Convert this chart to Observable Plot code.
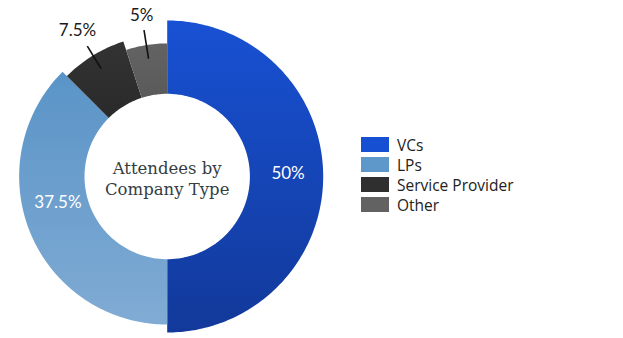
<!DOCTYPE html>
<html>
<head>
<meta charset="utf-8">
<script src="https://cdn.jsdelivr.net/npm/d3@7"></script>
<script src="https://cdn.jsdelivr.net/npm/@observablehq/plot@0.6"></script>
<style>
  html, body { margin: 0; padding: 0; background: #fff; }
  #wrap { position: relative; width: 623px; height: 338px; }
  #legend { position: absolute; left: 361px; top: 134.5px; font-family: "Open Sans", sans-serif; font-size: 15.5px; color: #222; }
  .row { display: flex; align-items: center; height: 20px; }
  .sw { width: 28px; height: 15px; margin-right: 8px; }
</style>
</head>
<body>
<div id="wrap"><div id="chart"></div><div id="legend"></div></div>
<script>
// ---- data ----
const categories = ["VCs", "LPs", "Service Provider", "Other"];
const values = [50, 37.5, 7.5, 5];
const valueLabels = ["50%", "37.5%", "7.5%", "5%"];
const centerTitle = ["Attendees by", "Company Type"];

// ---- styles ----
const colors = ["#174fd3", "#5e97ca", "#2f2f2f", "#626262"];
const gradients = [
  ["#1851d3", "#12399a"],
  ["#5a94c7", "#80abd4"],
  ["#333333", "#2a2a2a"],
  ["#636363", "#5a5a5a"]
];
const outerR = [1.0, 0.949, 0.91, 0.853];
const innerR = 0.53;
const labelInside = [true, true, false, false];
const labelR = [0.775, 0.72, 1.10, 1.045];
const labelAngleOffset = [-1.5, 9, 0, 0]; // degrees
const leaderR = [0, 0, [0.81, 0.98], [0.765, 0.95]];

// ---- geometry from data ----
const total = d3.sum(values);
let acc = 0;
const slices = values.map((v, i) => {
  const a0 = acc / total * 2 * Math.PI;
  acc += v;
  const a1 = acc / total * 2 * Math.PI;
  return {i, cat: categories[i], a0, a1, mid: (a0 + a1) / 2};
});
const pt = (a, r) => [Math.sin(a) * r, Math.cos(a) * r];
const poly = [];
for (const s of slices) {
  const n = Math.max(8, Math.ceil((s.a1 - s.a0) / (Math.PI / 180)));
  for (let k = 0; k <= n; k++) {
    const a = s.a0 + (s.a1 - s.a0) * k / n;
    const [x, y] = pt(a, outerR[s.i]);
    poly.push({x, y, z: s.cat, fill: `url(#grad${s.i})`});
  }
  for (let k = n; k >= 0; k--) {
    const a = s.a0 + (s.a1 - s.a0) * k / n;
    const [x, y] = pt(a, innerR);
    poly.push({x, y, z: s.cat, fill: `url(#grad${s.i})`});
  }
}
const labels = slices.map(s => {
  const a = s.mid + labelAngleOffset[s.i] * Math.PI / 180;
  const [x, y] = pt(a, labelR[s.i]);
  return {x, y, text: valueLabels[s.i], inside: labelInside[s.i]};
});
const leaders = [];
slices.forEach(s => {
  if (!labelInside[s.i]) {
    const [r0, r1] = leaderR[s.i];
    const [x1, y1] = pt(s.mid, r0);
    const [x2, y2] = pt(s.mid, r1);
    leaders.push({x1, y1, x2, y2});
  }
});

const unit = 156, cx = 166.7, cy = 176, W = 623, H = 338;
const chart = Plot.plot({
  width: W, height: H,
  margin: 0,
  x: {domain: [-cx / unit, (W - cx) / unit], range: [0, W], axis: null},
  y: {domain: [-(H - cy) / unit, cy / unit], range: [H, 0], axis: null},
  color: {type: "identity"},
  style: {background: "transparent"},
  marks: [
    Plot.line(poly, {x: "x", y: "y", z: "z", fill: "fill", stroke: "none", curve: "linear-closed"}),
    Plot.link(leaders, {x1: "x1", y1: "y1", x2: "x2", y2: "y2", stroke: "#111", strokeWidth: 1.6}),
    Plot.text(labels.filter(d => d.inside), {x: "x", y: "y", text: "text", fill: "#fff", fontSize: 17, fontFamily: "Lato, sans-serif"}),
    Plot.text(labels.filter(d => !d.inside), {x: "x", y: "y", text: "text", fill: "#1a1a1a", fontSize: 17, fontFamily: "Lato, sans-serif"}),
    Plot.text([centerTitle.join("\n")], {x: 0, y: 0, dy: 1.5, text: d => d, fill: "#353d42", fontSize: 16.5, lineHeight: 1.27, fontFamily: "'DejaVu Serif', serif"})
  ]
});
// gradients
const defs = d3.select(chart).insert("defs", ":first-child");
gradients.forEach((g, i) => {
  const lg = defs.append("linearGradient").attr("id", `grad${i}`).attr("x1", 0).attr("y1", 0).attr("x2", 0).attr("y2", 1);
  lg.append("stop").attr("offset", "0%").attr("stop-color", g[0]);
  lg.append("stop").attr("offset", "100%").attr("stop-color", g[1]);
});
document.getElementById("chart").appendChild(chart);

// legend
const legend = d3.select("#legend");
categories.forEach((c, i) => {
  const row = legend.append("div").attr("class", "row");
  row.append("div").attr("class", "sw").style("background", colors[i]);
  row.append("span").text(c);
});
</script>
</body>
</html>
